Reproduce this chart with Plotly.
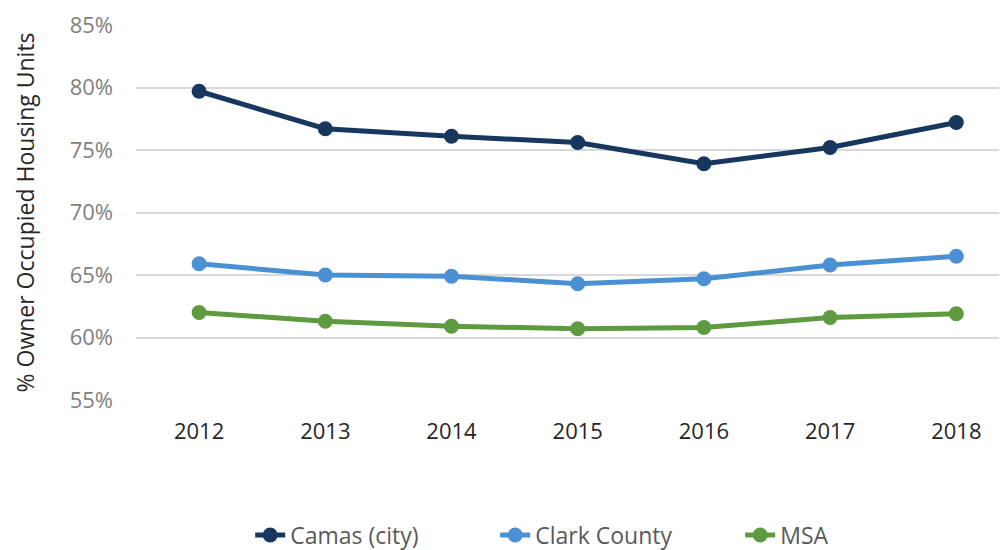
import plotly.graph_objects as go

years = ["2012", "2013", "2014", "2015", "2016", "2017", "2018"]
camas = [79.7, 76.7, 76.1, 75.6, 73.9, 75.2, 77.2]
clark = [65.9, 65.0, 64.9, 64.3, 64.7, 65.8, 66.5]
msa = [62.0, 61.3, 60.9, 60.7, 60.8, 61.6, 61.9]
y_ticks = [55, 60, 65, 70, 75, 80, 85]
y_labels = [f"{v}%" for v in y_ticks]

series = [
    ("Camas (city)", camas, "#17375E"),
    ("Clark County", clark, "#4A90D2"),
    ("MSA", msa, "#5E9A3F"),
]

fig = go.Figure()
for name, vals, color in series:
    fig.add_trace(go.Scatter(
        x=years, y=vals, name=name, mode="lines+markers",
        line=dict(color=color, width=5),
        marker=dict(color=color, size=15),
        hovertemplate="%{x}: %{y:.1f}%<extra>" + name + "</extra>",
    ))

font_family = "'Open Sans', Lato, sans-serif"
fig.update_layout(
    width=1007, height=550,
    margin=dict(l=128, r=0, t=17, b=158),
    paper_bgcolor="white", plot_bgcolor="white",
    font=dict(family=font_family, size=20, color="#595959"),
    showlegend=True,
    legend=dict(orientation="h", x=0.548, xanchor="center", y=-0.36, yanchor="middle",
                font=dict(size=23, color="#595959"), traceorder="normal",
                entrywidth=200, entrywidthmode="pixels"),
    xaxis=dict(type="category", range=[-0.5, 6.465], showgrid=False, zeroline=False,
               showline=False, ticks="", tickfont=dict(size=22, color="#262626"),
               ticklabelstandoff=16, automargin=False),
    yaxis=dict(range=[55, 85], tickvals=y_ticks, ticktext=y_labels, showgrid=True,
               gridcolor="#D9D9D9", gridwidth=2, zeroline=False, showline=False,
               tickfont=dict(size=22, color="#7F7F7F"), ticklabelstandoff=22,
               automargin=False),
    annotations=[dict(text="% Owner Occupied Housing Units", xref="paper", yref="paper",
                      x=-0.1263, y=0.5, xanchor="center", yanchor="middle", textangle=-90,
                      showarrow=False, font=dict(size=23, color="#262626"))],
)

fig.write_html("out.html")
